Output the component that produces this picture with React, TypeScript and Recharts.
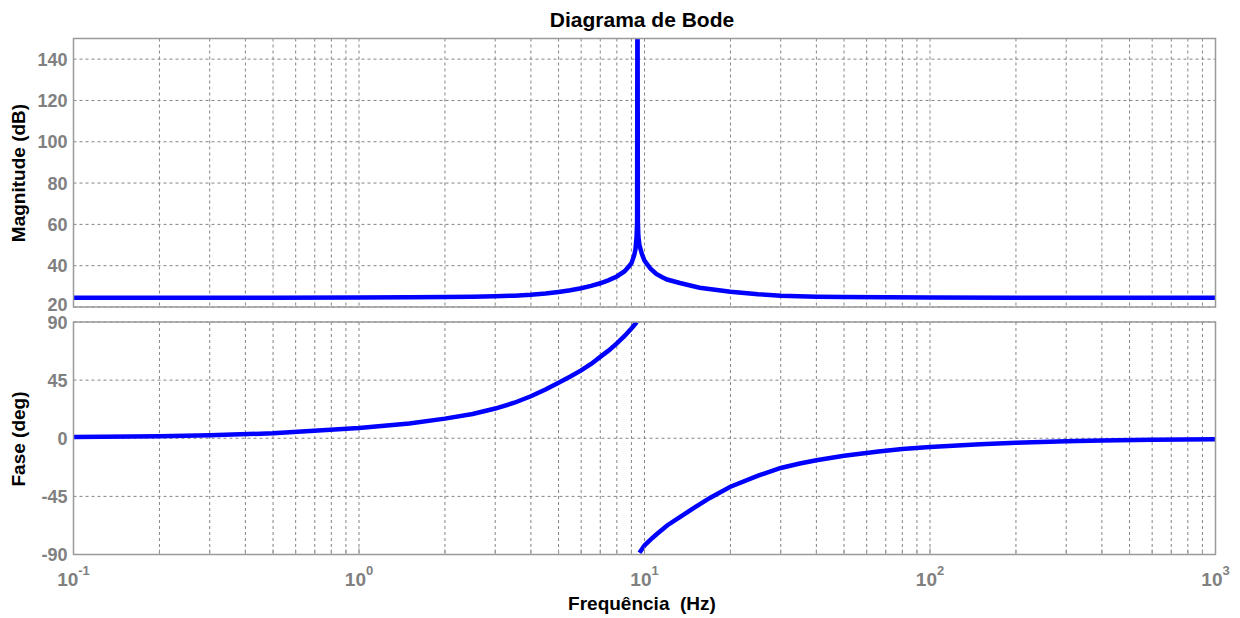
import { LineChart, Line, XAxis, YAxis, CartesianGrid } from "recharts";

// Frequency grid ticks: decades plus the 2..9 minors of each decade
const decades = [0.1, 1, 10, 100, 1000];
const freqTicks: number[] = [];
decades.forEach((d, i) => {
  freqTicks.push(d);
  if (i < decades.length - 1) {
    [2, 3, 4, 5, 6, 7, 8, 9].forEach((m) => freqTicks.push(+(d * m).toPrecision(3)));
  }
});

const magTicks = [20, 40, 60, 80, 100, 120, 140];
const phaseTicks = [-90, -45, 0, 45, 90];

// Magnitude (dB) vs frequency (Hz)
const magFreq = [
  0.1, 0.2, 0.5, 1, 1.5, 2, 2.5, 3, 3.5, 4, 4.5, 5, 5.5, 6, 6.5, 7, 7.5, 8, 8.5,
  8.8, 9, 9.2, 9.3, 9.38, 9.42, 9.45, 9.48, 9.52, 9.6, 9.8, 10, 10.5, 11, 11.5,
  12, 13.3, 15.6, 20, 25, 30, 40, 50, 100, 200, 500, 1000,
];
const magDb = [
  24.5, 24.5, 24.5, 24.6, 24.7, 24.8, 25, 25.2, 25.5, 25.9, 26.5, 27.3, 28.1,
  29.1, 30.2, 31.5, 33, 34.8, 37.2, 39.5, 41.2, 45, 48, 54, 61, 200, 61, 54, 50,
  45.5, 42.5, 38.5, 36, 34.5, 33.3, 31.6, 29.3, 27.4, 26.2, 25.5, 25, 24.8,
  24.6, 24.5, 24.5, 24.5,
];

// Phase (deg), below and above the resonance
const phaseLowFreq = [
  0.1, 0.2, 0.3, 0.5, 1, 1.5, 2, 2.5, 3, 3.5, 4, 4.5, 5, 5.5, 6, 6.5, 7, 7.5, 8,
  8.5, 9, 9.2, 9.4,
];
const phaseLowDeg = [
  1.0, 1.5, 2.4, 3.8, 7.9, 11.5, 15.2, 18.8, 23, 27.5, 32.5, 37.8, 43, 47.8,
  52.5, 57.5, 63, 68, 73.5, 79, 85, 87.5, 90,
];

const phaseHighFreq = [
  9.6, 10, 10.5, 11, 12, 13.3, 15, 17, 20, 25, 30, 35, 40, 50, 66, 80, 100, 150,
  200, 300, 400, 600, 1000,
];
const phaseHighDeg = [
  -88.6, -83, -78.5, -74.5, -67.5, -61, -53.5, -46, -37.5, -29, -23, -19.5, -17,
  -13.6, -10.2, -8.4, -6.8, -4.6, -3.5, -2.3, -1.7, -1.1, -0.7,
];

const magData = magFreq.map((f, i) => ({ f, v: magDb[i] }));
const phaseLowData = phaseLowFreq.map((f, i) => ({ f, v: phaseLowDeg[i] }));
const phaseHighData = phaseHighFreq.map((f, i) => ({ f, v: phaseHighDeg[i] }));

const FONT = '"Liberation Sans", Arial, Helvetica, sans-serif';
const TICK_GRAY = "#808080";
const GRID = "#858585";
const FRAME = "#9a9a9a";
const BLUE = "#0000ff";

const W = 1240;
const PLOT_LEFT = 73.5;
const PLOT_RIGHT = 1215.5;

// labels sitting on a panel edge are nudged apart so "20" and "90" don't collide
const edgeNudge: Record<number, number> = { 20: -2, 90: 1, [-90]: 0 };

const YTick = ({ x, y, payload }: any) => (
  <text
    x={x - 6}
    y={y + (edgeNudge[payload.value] || 0)}
    dy="0.36em"
    textAnchor="end"
    fill={TICK_GRAY}
    fontFamily={FONT}
    fontWeight="bold"
    fontSize={18}
  >
    {payload.value}
  </text>
);

// inner tick mark only (top panel bottom edge)
const MarkTick = ({ x, y }: any) => (
  <line x1={x} x2={x} y1={y} y2={y - 5} stroke={FRAME} strokeWidth={1} />
);

const FreqTick = ({ x, y, payload }: any) => {
  const lg = Math.log10(payload.value);
  const exp = Math.round(lg);
  const major = Math.abs(lg - exp) < 1e-6;
  return (
    <g>
      <line x1={x} x2={x} y1={y} y2={y - (major ? 7 : 5)} stroke={FRAME} strokeWidth={1} />
      {major && (
        <text
          x={x}
          y={y + 31.5}
          textAnchor="middle"
          fill={TICK_GRAY}
          fontFamily={FONT}
          fontWeight="bold"
          fontSize={19}
        >
          <tspan>10</tspan>
          <tspan dy={-11} fontSize={13}>
            {exp}
          </tspan>
        </text>
      )}
    </g>
  );
};

export default function App() {
  return (
    <div
      style={{
        position: "absolute",
        left: 0,
        top: 0,
        width: W,
        height: 618,
        background: "#fff",
      }}
    >
      {/* Magnitude panel */}
      <div style={{ position: "absolute", left: 0, top: 0 }}>
        <LineChart
          width={W}
          height={330}
          margin={{ top: 38.5, right: W - PLOT_RIGHT, left: PLOT_LEFT - 60, bottom: 23 }}
        >
          <CartesianGrid stroke={GRID} strokeDasharray="3 3" />
          <XAxis
            dataKey="f"
            type="number"
            scale="log"
            domain={[0.1, 1000]}
            ticks={freqTicks}
            interval={0}
            allowDataOverflow
            height={0}
            axisLine={false}
            tickLine={false}
            tickSize={0}
            tickMargin={0}
            tick={<MarkTick />}
          />
          <YAxis
            type="number"
            domain={[20, 150]}
            ticks={magTicks}
            interval={0}
            allowDataOverflow
            width={60}
            axisLine={false}
            tickLine={false}
            tickSize={0}
            tickMargin={0}
            tick={<YTick />}
          />
          <Line
            data={magData}
            dataKey="v"
            type="linear"
            stroke={BLUE}
            strokeWidth={4.5}
            dot={false}
            isAnimationActive={false}
          />
        </LineChart>
      </div>

      {/* Phase panel */}
      <div style={{ position: "absolute", left: 0, top: 310 }}>
        <LineChart
          width={W}
          height={308}
          margin={{ top: 12, right: W - PLOT_RIGHT, left: PLOT_LEFT - 60, bottom: 23.5 }}
        >
          <CartesianGrid stroke={GRID} strokeDasharray="3 3" />
          <XAxis
            dataKey="f"
            type="number"
            scale="log"
            domain={[0.1, 1000]}
            ticks={freqTicks}
            interval={0}
            allowDataOverflow
            height={40}
            axisLine={false}
            tickLine={false}
            tickSize={0}
            tickMargin={0}
            tick={<FreqTick />}
          />
          <YAxis
            type="number"
            domain={[-90, 90]}
            ticks={phaseTicks}
            interval={0}
            allowDataOverflow
            width={60}
            axisLine={false}
            tickLine={false}
            tickSize={0}
            tickMargin={0}
            tick={<YTick />}
          />
          <Line
            data={phaseLowData}
            dataKey="v"
            type="linear"
            stroke={BLUE}
            strokeWidth={4.5}
            dot={false}
            isAnimationActive={false}
          />
          <Line
            data={phaseHighData}
            dataKey="v"
            type="linear"
            stroke={BLUE}
            strokeWidth={4.5}
            dot={false}
            isAnimationActive={false}
          />
        </LineChart>
      </div>

      {/* Frames, title and axis labels */}
      <svg
        width={W}
        height={618}
        style={{ position: "absolute", left: 0, top: 0, pointerEvents: "none" }}
        fontFamily={FONT}
        fontWeight="bold"
      >
        <rect
          x={PLOT_LEFT}
          y={38.5}
          width={PLOT_RIGHT - PLOT_LEFT}
          height={268.5}
          fill="none"
          stroke={FRAME}
          strokeWidth={1.5}
        />
        <rect
          x={PLOT_LEFT}
          y={322}
          width={PLOT_RIGHT - PLOT_LEFT}
          height={232.5}
          fill="none"
          stroke={FRAME}
          strokeWidth={1.5}
        />
        <text x={642} y={27} textAnchor="middle" fontSize={21} fill="#000">
          Diagrama de Bode
        </text>
        <text
          x={25}
          y={173}
          textAnchor="middle"
          fontSize={19}
          fill="#000"
          transform="rotate(-90 25 173)"
        >
          Magnitude (dB)
        </text>
        <text
          x={25}
          y={439}
          textAnchor="middle"
          fontSize={19}
          fill="#000"
          transform="rotate(-90 25 439)"
        >
          Fase (deg)
        </text>
        <text
          x={642}
          y={610}
          textAnchor="middle"
          fontSize={19}
          fill="#000"
          style={{ whiteSpace: "pre" }}
        >
          {"Frequência  (Hz)"}
        </text>
      </svg>
    </div>
  );
}
